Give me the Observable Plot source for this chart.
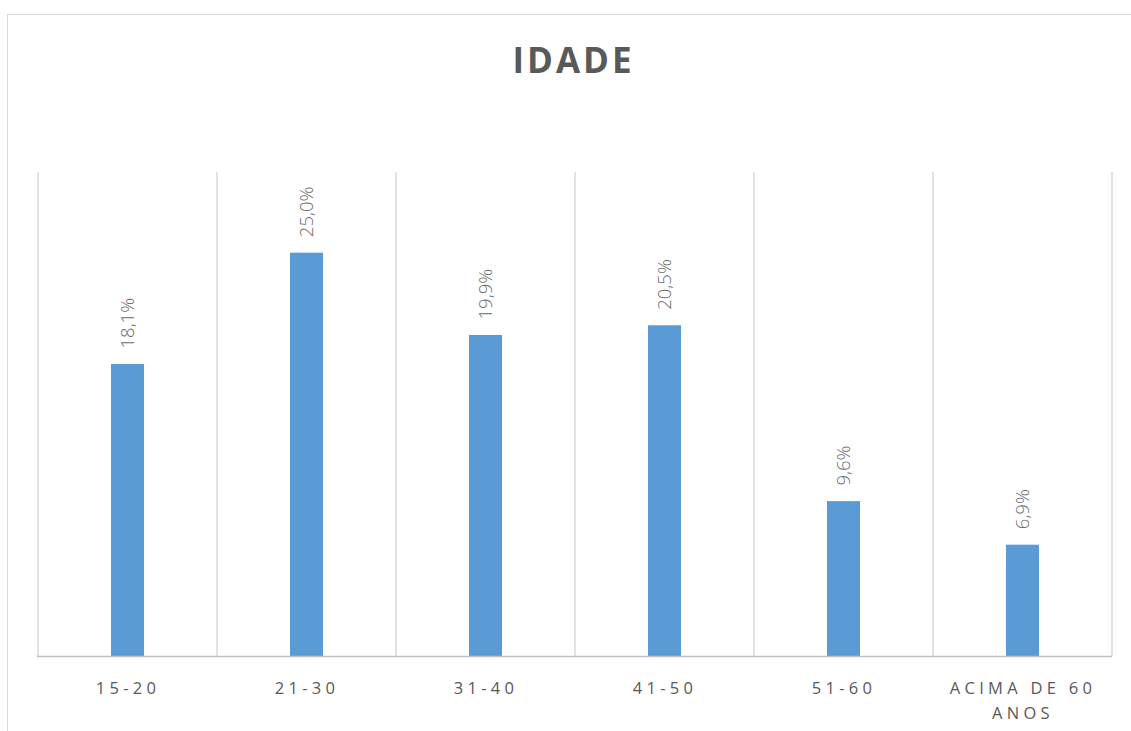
<!DOCTYPE html>
<html><head><meta charset="utf-8">
<script src="https://cdn.jsdelivr.net/npm/d3@7"></script>
<script src="https://cdn.jsdelivr.net/npm/@observablehq/plot@0.6"></script>
<style>
html,body{margin:0;padding:0;background:#fff;overflow:hidden;}
#page{position:relative;width:1131px;height:731px;overflow:hidden;font-family:"Open Sans",sans-serif;}
#frame{position:absolute;left:7px;top:14px;width:1140px;height:740px;border:1.5px solid #d9d9d9;box-sizing:border-box;}
#title{position:absolute;left:8px;width:1131px;top:36px;text-align:center;font-size:35px;font-weight:700;color:#595959;letter-spacing:3px;line-height:normal;}
#chart{position:absolute;left:0;top:120px;}
#chart svg g[aria-label="x-axis tick label"]{letter-spacing:4.3px;}
</style></head><body>
<div id="page"><div id="frame"></div><div id="title">IDADE</div><div id="chart"></div></div>
<script>
const categories = ["15-20", "21-30", "31-40", "41-50", "51-60", "ACIMA DE 60 ANOS"];
const values = [18.1, 25.0, 19.9, 20.5, 9.6, 6.9];
const valueLabels = ["18,1%", "25,0%", "19,9%", "20,5%", "9,6%", "6,9%"];
const tickLabels = ["15-20", "21-30", "31-40", "41-50", "51-60", "ACIMA DE 60\nANOS"];

const data = categories.map((c, i) => ({cat: c, value: values[i], label: valueLabels[i]}));

const chart = Plot.plot({
  width: 1131, height: 611,
  marginLeft: 37, marginRight: 19, marginTop: 52, marginBottom: 75,
  style: {fontFamily: '"Open Sans", sans-serif', color: "#595959", background: "transparent"},
  x: {domain: categories, padding: 0, label: null},
  y: {domain: [0, 30], axis: null},
  marks: [
    Plot.barY(data, {x: "cat", y: "value", fill: "#5b9bd5", insetLeft: 73, insetRight: 73}),
    Plot.ruleY([0], {stroke: "#bfbfbf", strokeWidth: 1.5}),
    Plot.text(data, {x: "cat", y: "value", text: "label", rotate: -90, textAnchor: "start", dy: -16, fontSize: 18.5, fontWeight: 300, fill: "#6b6b6b"}),
    Plot.axisX({tickSize: 0, tickPadding: 20, fontSize: 16.5, lineHeight: 1.5, fill: "#595959",
      tickFormat: d => tickLabels[categories.indexOf(d)]})
  ]
});

document.getElementById("chart").appendChild(chart);

// vertical gridlines at band boundaries, using the plot's own scales
const xs = chart.scale("x"), ys = chart.scale("y");
const bounds = categories.map(c => xs.apply(c)).concat([xs.apply(categories[categories.length - 1]) + xs.bandwidth]);
const svg = d3.select(chart);
const g = svg.insert("g", ":first-child").attr("aria-label", "gridlines");
g.selectAll("line").data(bounds).join("line")
  .attr("x1", d => d).attr("x2", d => d)
  .attr("y1", ys.apply(30)).attr("y2", ys.apply(0))
  .attr("stroke", "#d9d9d9").attr("stroke-width", 1.5);
</script>
</body></html>
